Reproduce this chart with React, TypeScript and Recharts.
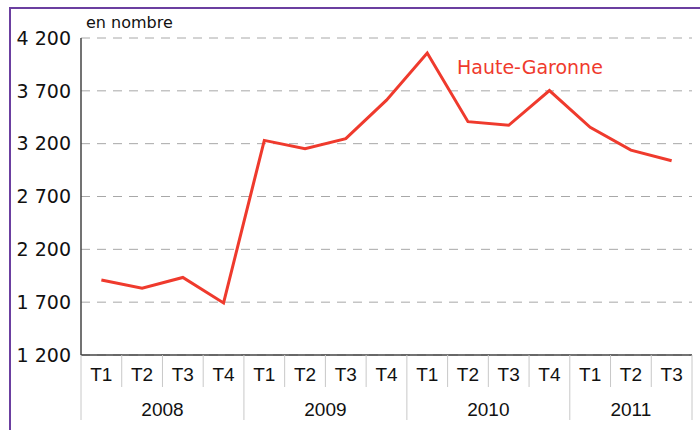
import React from 'react';
import { LineChart, Line, XAxis, YAxis, CartesianGrid } from 'recharts';

const quarters = ['T1', 'T2', 'T3', 'T4', 'T1', 'T2', 'T3', 'T4', 'T1', 'T2', 'T3', 'T4', 'T1', 'T2', 'T3'];
const years = ['2008', '2008', '2008', '2008', '2009', '2009', '2009', '2009', '2010', '2010', '2010', '2010', '2011', '2011', '2011'];
const values = [1910, 1833, 1934, 1693, 3231, 3153, 3247, 3612, 4058, 3408, 3374, 3703, 3355, 3139, 3039];
const yTicks = [1200, 1700, 2200, 2700, 3200, 3700, 4200];
const seriesName = 'Haute-Garonne';
const unitLabel = 'en nombre';

const data = quarters.map((q, i) => ({ key: `${years[i]}-${q}`, q, year: years[i], v: values[i] }));

const W = 700;
const H = 430;
const M = { top: 38, right: 8, left: 11, bottom: 10 };
const Y_W = 70;
const PLOT_W = W - M.left - M.right - Y_W;
const BW = PLOT_W / data.length;
const Q_H = 32;
const YR_H = 33;
const SEP = '#c8c8c8';

const fmt = (v: number) => String(v).replace(/\B(?=(\d{3})+(?!\d))/g, ' ');

const QuarterTick = (props: any) => {
  const { x, y, index } = props;
  const last = index === data.length - 1;
  return (
    <g>
      <line x1={x - BW / 2} x2={x - BW / 2} y1={y} y2={y + Q_H} stroke={SEP} strokeWidth={1} />
      {last && <line x1={x + BW / 2} x2={x + BW / 2} y1={y} y2={y + Q_H} stroke={SEP} strokeWidth={1} />}
      <text x={x} y={y + 19} textAnchor="middle" dominantBaseline="central" fontSize={19} fill="#111" fontFamily="'Liberation Sans', Arial, sans-serif">
        {data[index].q}
      </text>
    </g>
  );
};

const YearTick = (props: any) => {
  const { x, y, index } = props;
  const yr = data[index].year;
  const isStart = index === 0 || data[index - 1].year !== yr;
  const last = index === data.length - 1;
  const idxs = data.map((d, i) => (d.year === yr ? i : -1)).filter((i) => i >= 0);
  const first = idxs[0];
  const lastIdx = idxs[idxs.length - 1];
  const center = x + ((first + lastIdx) / 2 - index) * BW;
  return (
    <g>
      {isStart && <line x1={x - BW / 2} x2={x - BW / 2} y1={y} y2={y + YR_H} stroke={SEP} strokeWidth={1} />}
      {last && <line x1={x + BW / 2} x2={x + BW / 2} y1={y} y2={y + YR_H} stroke={SEP} strokeWidth={1} />}
      {isStart && (
        <text x={center} y={y + 22} textAnchor="middle" dominantBaseline="central" fontSize={19} fill="#111" fontFamily="'Liberation Sans', Arial, sans-serif">
          {yr}
        </text>
      )}
    </g>
  );
};

export default function App() {
  return (
    <div style={{ position: 'absolute', left: 0, top: 0, width: W, height: H, background: '#fff', overflow: 'hidden' }}>
      <div style={{ position: 'absolute', left: 9, top: 7, width: 2, height: H - 7, background: '#6b3fa0' }} />
      <div style={{ position: 'absolute', left: 9, top: 7, width: W - 9, height: 2, background: '#6b3fa0' }} />
      <LineChart width={W} height={H} data={data} margin={M}>
        <CartesianGrid vertical={false} stroke="#a8a8a8" strokeDasharray="9 7" />
        <XAxis
          dataKey="key"
          height={Q_H}
          interval={0}
          padding={{ left: BW / 2, right: BW / 2 }}
          tickSize={0}
          tickMargin={0}
          tickLine={false}
          axisLine={{ stroke: '#444', strokeWidth: 1.5 }}
          tick={<QuarterTick />}
        />
        <XAxis
          xAxisId="year"
          dataKey="key"
          height={YR_H}
          interval={0}
          padding={{ left: BW / 2, right: BW / 2 }}
          tickSize={0}
          tickMargin={0}
          tickLine={false}
          axisLine={false}
          tick={<YearTick />}
        />
        <YAxis
          width={Y_W}
          domain={[1200, 4200]}
          ticks={yTicks}
          interval={0}
          tickFormatter={fmt}
          tickSize={0}
          tickMargin={10}
          tickLine={false}
          axisLine={{ stroke: '#444', strokeWidth: 1.5 }}
          tick={{ fontSize: 19, fill: '#111', fontFamily: "'DejaVu Sans', Verdana, sans-serif" }}
        />
        <Line type="linear" dataKey="v" stroke="#ef3a2d" strokeWidth={3} dot={false} isAnimationActive={false} />
      </LineChart>
      <div style={{ position: 'absolute', left: 86, top: 13, fontSize: 16, fontFamily: "'DejaVu Sans', Verdana, sans-serif", color: '#111', lineHeight: '20px', whiteSpace: 'nowrap' }}>
        {unitLabel}
      </div>
      <div style={{ position: 'absolute', left: 457, top: 55, fontSize: 19, fontFamily: "'DejaVu Sans', Verdana, sans-serif", color: '#ef3a2d', lineHeight: '24px', whiteSpace: 'nowrap' }}>
        {seriesName}
      </div>
    </div>
  );
}
